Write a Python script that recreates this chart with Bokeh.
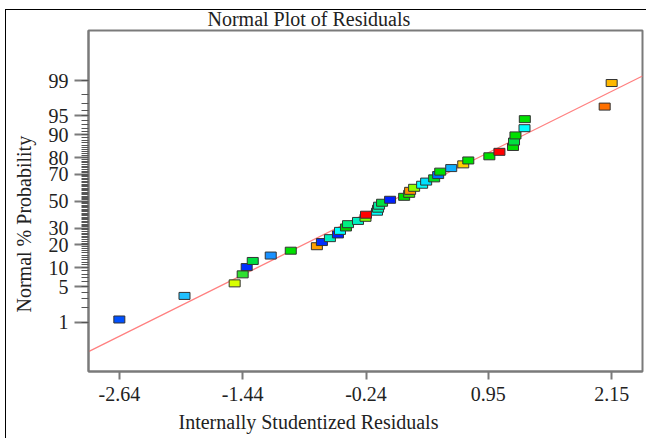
from statistics import NormalDist
from bokeh.plotting import figure
from bokeh.models import Range1d, FixedTicker, Title, ColumnDataSource, PrintfTickFormatter, InlineStyleSheet
from bokeh.embed import file_html
from bokeh.resources import INLINE

# ---- data ----
residuals = [-2.64, -2.006, -1.518, -1.44, -1.401, -1.342, -1.167, -0.972, -0.718, -0.669,
             -0.591, -0.513, -0.493, -0.435, -0.415, -0.318, -0.245, -0.240, -0.133, -0.123,
             -0.113, -0.084, -0.006, 0.131, 0.180, 0.189, 0.228, 0.306, 0.345, 0.423,
             0.462, 0.482, 0.589, 0.706, 0.755, 0.960, 1.058, 1.190, 1.200, 1.214,
             1.302, 1.305, 2.082, 2.150]
point_colors = ["#0050ff", "#20c0ff", "#d8ff00", "#30e030", "#0030ff", "#00e040", "#1890ff", "#00e000",
                "#ffa000", "#0030ff", "#00f0c0", "#0020ff", "#00ffff", "#00d000", "#00f080", "#00f0c0",
                "#80ff00", "#ff0000", "#00ffff", "#00f0b0", "#00f0a0", "#00e040", "#0020ff", "#00e000",
                "#40e000", "#ff9000", "#90ff00", "#00ffff", "#00e0ff", "#00e020", "#0070ff", "#00e000",
                "#10b0ff", "#ffd000", "#00e000", "#00e000", "#ff0000", "#00e000", "#00e040", "#00e000",
                "#00ffff", "#00e000", "#ff7000", "#ffb800"]
prob_ticks = [1, 5, 10, 20, 30, 50, 70, 80, 90, 95, 99]
x_ticks = [-2.64, -1.44, -0.24, 0.95, 2.15]
fit_mean = 0.0
fit_sd = 1.015

nd = NormalDist()
n = len(residuals)
zvals = [nd.inv_cdf((i + 0.5) / n) for i in range(n)]

serif = "Liberation Serif"

frame_css = InlineStyleSheet(css="""
:host { position: relative; }
:host::after { content: ""; position: absolute; left: 5px; top: 9px; width: 660px; height: 450px;
  border: 1.5px solid #000; pointer-events: none; box-sizing: border-box; }
""")

x0, x1 = -2.94, 2.45
p = figure(width=646, height=438, x_range=Range1d(x0, x1), y_range=Range1d(-3.28, 3.29),
           output_backend="svg", toolbar_location=None,
           min_border_left=88, min_border_right=4, min_border_top=30, min_border_bottom=67,
           stylesheets=[frame_css])
p.xgrid.visible = False
p.ygrid.visible = False
p.outline_line_color = "#7a7a7a"
p.outline_line_width = 2
p.background_fill_color = "white"
p.border_fill_color = "white"

# y axis (probability scale)
major_z = [nd.inv_cdf(v / 100) for v in prob_ticks]
minor_z = [nd.inv_cdf(k / 100) for k in range(1, 100)]
p.yaxis.ticker = FixedTicker(ticks=major_z, minor_ticks=minor_z)
p.yaxis.major_label_overrides = {z: str(v) for z, v in zip(major_z, prob_ticks)}
p.yaxis.major_tick_out = 14
p.yaxis.major_tick_in = 0
p.yaxis.minor_tick_out = 7
p.yaxis.minor_tick_in = 0
p.yaxis.minor_tick_line_color = "#555555"
p.yaxis.major_label_standoff = 6

# x axis
p.xaxis.ticker = FixedTicker(ticks=x_ticks, minor_ticks=[])
p.xaxis.formatter = PrintfTickFormatter(format="%.2f")
p.xaxis.major_tick_out = 8
p.xaxis.major_tick_in = 0
p.xaxis.major_label_standoff = 7

for ax in (p.xaxis, p.yaxis):
    ax.axis_line_color = "#7a7a7a"
    ax.axis_line_width = 2
    ax.major_tick_line_color = "#7a7a7a"
    ax.major_tick_line_width = 2
    ax.major_label_text_font = serif
    ax.major_label_text_font_size = "20px"
    ax.major_label_text_color = "#222222"

# fit line
fx = [x0, x1]
fz = [(v - fit_mean) / fit_sd for v in fx]
p.line(fx, fz, line_color="#ff8080", line_width=1.3)

src = ColumnDataSource(dict(x=residuals, z=zvals, c=point_colors))
p.rect(x="x", y="z", width=11, height=7, width_units="screen", height_units="screen",
       fill_color="c", line_color="#333333", line_width=1, source=src)

# texts as titles (not clipped by the frame)
p.title = Title(text="Normal Plot of Residuals", align="left", offset=119, standoff=2,
                text_font=serif, text_font_size="20px", text_font_style="normal", text_color="#222222")
p.add_layout(Title(text="Internally Studentized Residuals", align="left", offset=90, standoff=10,
                   text_font=serif, text_font_size="20px", text_font_style="normal",
                   text_color="#222222"), "below")
p.add_layout(Title(text="Normal % Probability", align="left", offset=59, standoff=21,
                   text_font=serif, text_font_size="20px", text_font_style="normal",
                   text_color="#222222"), "left")

open("out.html", "w").write(file_html(p, INLINE))
